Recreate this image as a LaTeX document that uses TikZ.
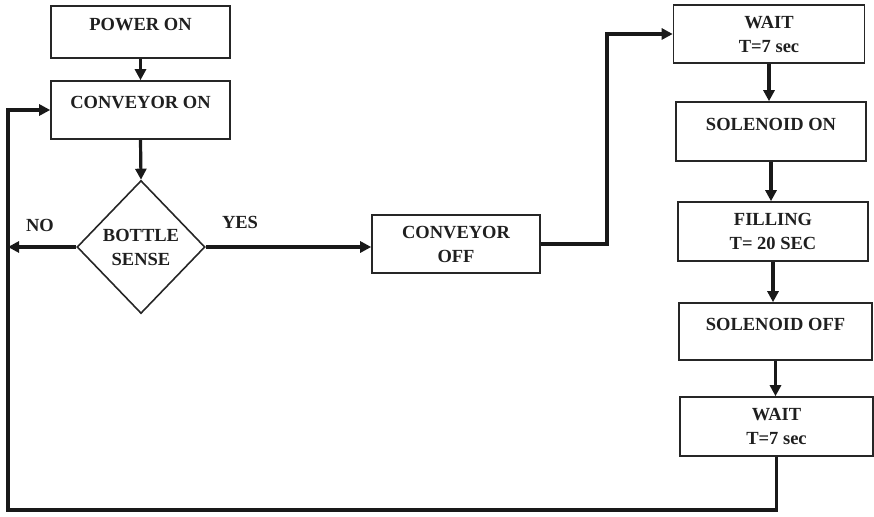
\documentclass[tikz,border=0pt]{standalone}
\usepackage{fontspec}
\setmainfont{Liberation Serif}
\usetikzlibrary{arrows.meta,shapes.geometric}

\begin{document}
\begin{tikzpicture}[x=1pt,y=-1pt,
  every node/.style={font=\fontsize{18.5}{24}\selectfont\bfseries, text=black!88},
  procbox/.style={draw=black!85, line width=1.6pt, rectangle, inner sep=0pt, align=center},
  onerow/.style={procbox, text depth=15pt},
  decision/.style={draw=black!85, line width=1.6pt, diamond, inner sep=0pt,
    minimum width=128pt, minimum height=133pt, align=center},
  flow/.style={draw=black!90, line width=3.2pt},
  flowarrow/.style={flow, -{Triangle[length=11pt,width=11pt]}},
  tag/.style={inner sep=0pt}
]
\useasboundingbox (0,0) rectangle (874,516);

% left column
\node[onerow, minimum width=179pt, minimum height=52pt] (pwr) at (140.5,32) {POWER ON};
\node[onerow, minimum width=179pt, minimum height=58pt] (con) at (140.5,110) {CONVEYOR ON};
\node[decision] (dia) at (141,247) {BOTTLE\\SENSE};

% middle
\node[procbox, minimum width=168pt, minimum height=58pt] (off) at (456,244) {CONVEYOR\\OFF};

% right column
\node[procbox, minimum width=191pt, minimum height=58pt] (wt1) at (769,34) {WAIT\\T=7 sec};
\node[onerow, minimum width=190pt, minimum height=59pt] (son) at (771,131.5) {SOLENOID ON};
\node[procbox, minimum width=190pt, minimum height=59pt] (fil) at (773,231.5) {FILLING\\T= 20 SEC};
\node[onerow, minimum width=193pt, minimum height=57pt] (sof) at (775.5,331.5) {SOLENOID OFF};
\node[procbox, minimum width=193pt, minimum height=59pt] (wt2) at (776.5,426.5) {WAIT\\T=7 sec};

% branch labels
\node[tag] (no) at (40,225) {NO};
\node[tag] (yes) at (240,222) {YES};

% routing points
\coordinate (lb) at (8,510);
\coordinate (jx) at (607,0);

% main flow
\draw[flowarrow] (pwr.south) -- (con.north);
\draw[flowarrow] (con.south) -- (dia.north);
\draw[flowarrow] (dia.east) -- (dia.east -| off.west);
\draw[flowarrow] (dia.west) -- (dia.west -| lb);
\draw[flowarrow] (off.east) -- (off.east -| jx) |- (wt1.west);
\draw[flowarrow] (wt1.south) -- (wt1.south |- son.north);
\draw[flowarrow] (son.south) -- (son.south |- fil.north);
\draw[flowarrow] (fil.south) -- (fil.south |- sof.north);
\draw[flowarrow] (sof.south) -- (sof.south |- wt2.north);

% return loop
\draw[flowarrow] (wt2.south) |- (lb) |- (con.west);
\end{tikzpicture}
\end{document}
